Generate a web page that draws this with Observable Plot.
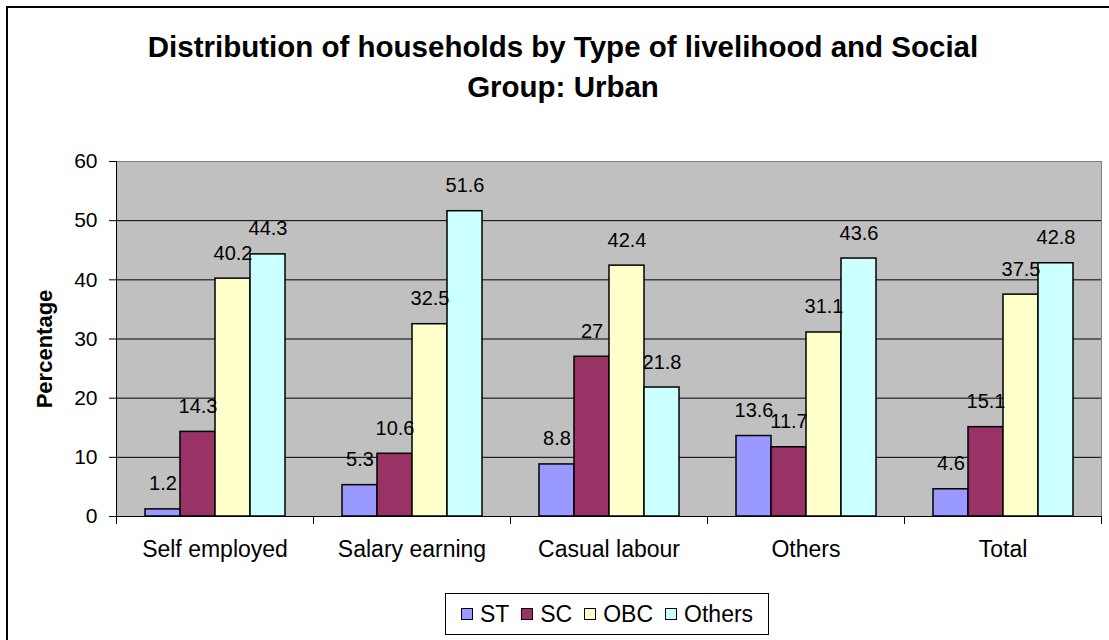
<!DOCTYPE html>
<html>
<head>
<meta charset="utf-8">
<script src="https://cdn.jsdelivr.net/npm/d3@7"></script>
<script src="https://cdn.jsdelivr.net/npm/@observablehq/plot@0.6"></script>
<style>
  html, body { margin: 0; padding: 0; background: #fff; }
  #wrap { position: relative; width: 1109px; height: 640px; overflow: hidden; font-family: "Liberation Sans", Arial, sans-serif; color: #000; }
  #box { position: absolute; left: 6px; top: 6px; width: 1200px; height: 700px; border-left: 2px solid #000; border-top: 2px solid #000; }
  #title { position: absolute; left: 13px; width: 1100px; top: 27px; text-align: center; font-weight: bold; font-size: 29.5px; line-height: 40px; }
  #ylabel { position: absolute; left: 45px; top: 349px; transform: translate(-50%, -50%) rotate(-90deg); font-weight: bold; font-size: 22px; white-space: nowrap; }
  #chart { position: absolute; left: 0; top: 140px; }
  #legend { position: absolute; left: 445px; top: 593px; width: 322px; height: 40px; border: 1px solid #000; display: flex; align-items: center; justify-content: center; font-size: 23px; }
  .item { display: flex; align-items: center; margin: 0 6px; }
  .sw { width: 10px; height: 10px; border: 1px solid #000; margin-right: 7px; }
</style>
</head>
<body>
<div id="wrap">
  <div id="box"></div>
  <div id="title">Distribution of households by Type of livelihood and Social<br>Group: Urban</div>
  <div id="ylabel">Percentage</div>
  <div id="chart"></div>
  <div id="legend"></div>
</div>
<script>
const categories = ["Self employed", "Salary earning", "Casual labour", "Others", "Total"];
const series = ["ST", "SC", "OBC", "Others"];
const seriesColors = ["#9999FF", "#993366", "#FFFFCC", "#CCFFFF"];
const ST = [1.2, 5.3, 8.8, 13.6, 4.6];
const SC = [14.3, 10.6, 27, 11.7, 15.1];
const OBC = [40.2, 32.5, 42.4, 31.1, 37.5];
const OthersVals = [44.3, 51.6, 21.8, 43.6, 42.8];
const yTicks = [0, 10, 20, 30, 40, 50, 60];

const valuesBySeries = [ST, SC, OBC, OthersVals];
const data = [];
categories.forEach((c, i) => {
  series.forEach((s, j) => data.push({cat: c, series: s, value: valuesBySeries[j][i]}));
});

const width = 1109, height = 420;
const marginLeft = 116, marginRight = 8, marginTop = 21, marginBottom = 44;
const step = (width - marginLeft - marginRight) / categories.length;

const chart = Plot.plot({
  width, height, marginLeft, marginRight, marginTop, marginBottom,
  style: {fontFamily: "Liberation Sans, Arial, sans-serif", color: "#000", background: "transparent", overflow: "visible"},
  fx: {domain: categories, padding: 0, label: null},
  x: {domain: series, paddingInner: 0, paddingOuter: 0.74, axis: null},
  y: {domain: [0, 60], axis: null},
  color: {domain: series, range: seriesColors},
  marks: [
    Plot.frame({facet: "super", fill: "#C0C0C0", stroke: "#808080"}),
    Plot.ruleY(yTicks.filter(d => d > 0 && d < 60), {stroke: "#000", strokeWidth: 1}),
    Plot.frame({facet: "super", anchor: "left", stroke: "#000"}),
    Plot.ruleY([0], {stroke: "#000"}),
    Plot.barY(data, {fx: "cat", x: "series", y: "value", fill: "series", stroke: "#000", strokeWidth: 1.5}),
    Plot.text(data, {fx: "cat", x: "series", y: "value", text: d => String(d.value), lineAnchor: "bottom", dy: -19, fontSize: 20, fill: "#000"}),
    Plot.axisY({ticks: yTicks, tickSize: 7, tickPadding: 12, fontSize: 21, label: null, tickFormat: d => String(d)}),
    Plot.axisFx({anchor: "bottom", tickSize: 0, tickPadding: 24, fontSize: 23, label: null}),
    Plot.axisFx({anchor: "bottom", tickSize: 8, tickFormat: () => "", dx: -step / 2, label: null}),
    Plot.axisFx({anchor: "bottom", ticks: [categories[categories.length - 1]], tickSize: 8, tickFormat: () => "", dx: step / 2, label: null})
  ]
});
document.getElementById("chart").appendChild(chart);

const legend = document.getElementById("legend");
series.forEach((s, j) => {
  const it = document.createElement("div");
  it.className = "item";
  const sw = document.createElement("div");
  sw.className = "sw";
  sw.style.background = seriesColors[j];
  const t = document.createElement("span");
  t.textContent = s;
  it.appendChild(sw); it.appendChild(t);
  legend.appendChild(it);
});
</script>
</body>
</html>
